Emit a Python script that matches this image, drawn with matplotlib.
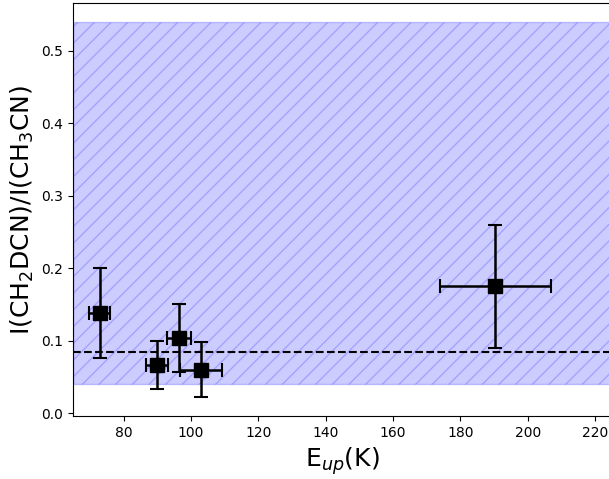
import numpy as np
import matplotlib.pyplot as plt

# measured ratios vs upper-level energy
e_up = [72.9, 90, 96.4, 103, 190.4]
e_err = [3.1, 3.2, 3.5, 6.1, 16.5]
ratio = [0.138, 0.066, 0.104, 0.060, 0.175]
ratio_lo = [0.062, 0.032, 0.047, 0.038, 0.085]
ratio_hi = [0.062, 0.034, 0.047, 0.038, 0.085]

mean_ratio = 0.085
range_lo, range_hi = 0.04, 0.54

fig = plt.figure(figsize=(6.09, 4.79), dpi=100)
ax = fig.add_axes([73 / 609, 63 / 479, 539 / 609, 413 / 479])

ax.axhspan(range_lo, range_hi, facecolor=(0, 0, 1, 0.2), edgecolor=(0, 0, 1, 0.2),
           hatch='//', linewidth=1)
ax.axhline(mean_ratio, color='k', ls='--', lw=1.5)
ax.errorbar(e_up, ratio, xerr=e_err, yerr=[ratio_lo, ratio_hi], fmt='s', color='k',
            ms=10, capsize=5, elinewidth=1.8, capthick=1.5)

ax.set_xlim(65, 225)
ax.set_xticks(np.arange(80, 221, 20))
ax.set_yticks(np.arange(0, 0.51, 0.1))
ax.set_xlabel('E$_{up}$(K)', fontsize=18)
ax.set_ylabel('I(CH$_2$DCN)/I(CH$_3$CN)', fontsize=18)

fig.savefig('out.png')
